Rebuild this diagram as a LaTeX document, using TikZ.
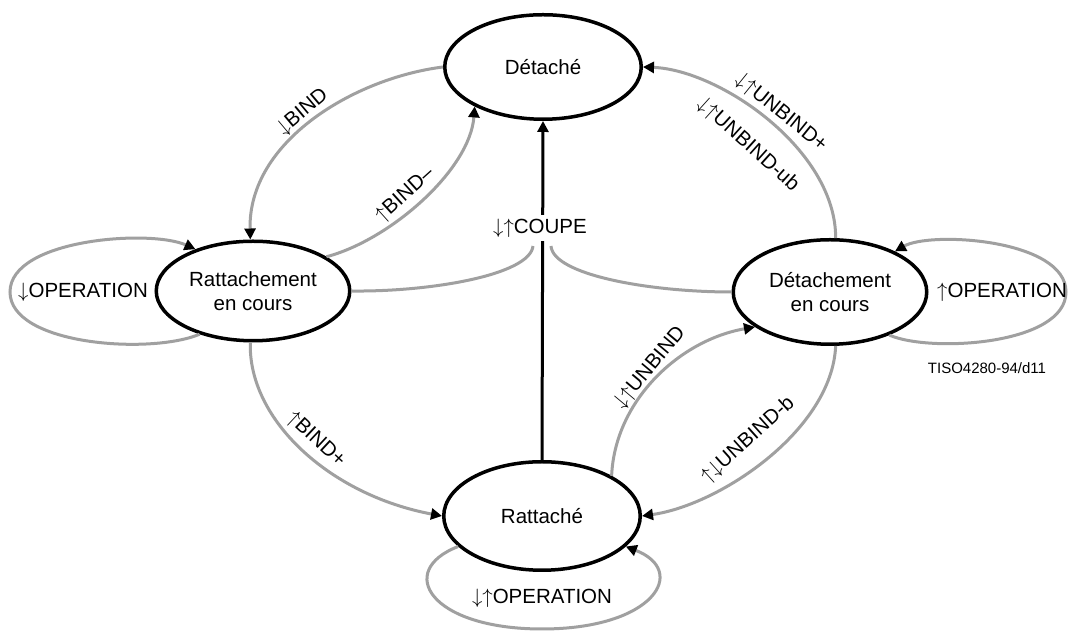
\documentclass[tikz,border=0pt]{standalone}
\usepackage{fontspec}
\setmainfont{Liberation Sans}
\usetikzlibrary{shapes.geometric,arrows.meta}
\definecolor{flowgray}{RGB}{160,160,160}
% thin, full-height direction arrows used in the transition labels
\newcommand{\arrdn}{\ensuremath{\downarrow}}
\newcommand{\arrup}{\ensuremath{\uparrow}}
\tikzset{
  state/.style={ellipse, draw=black, line width=3.5pt, fill=white, inner sep=0pt,
    align=center, font=\fontsize{20.5}{23.5}\selectfont},
  flow/.style={draw=flowgray, line width=3pt},
  tip/.style={-{Triangle[length=11pt,width=11pt,color=black,fill=black]}},
  lbl/.style={font=\fontsize{20.5}{24}\selectfont, inner sep=1pt},
}
\begin{document}
\begin{tikzpicture}[x=1pt,y=1pt]
\fill[white] (0,0) rectangle (1069,631);
\useasboundingbox (0,0) rectangle (1069,631);

% states
\node[state, minimum width=196.5pt, minimum height=104.5pt] (det) at (543,564) {Détaché};
\node[state, minimum width=193.5pt, minimum height=99.5pt] (rec) at (253,340) {Rattachement\\en cours};
\node[state, minimum width=193.5pt, minimum height=104.5pt] (dec) at (830,339) {Détachement\\en cours};
\node[state, minimum width=196.5pt, minimum height=108.5pt] (rat) at (542,115) {Rattaché};

% self loops
\draw[flow, tip] (rec.219) .. controls (150,276) and (10,286) .. (10,339)
  .. controls (10,392) and (150,402) .. (rec.144);
\node[lbl] (oplft) at (83,339) {\arrdn OPERATION};

\draw[flow, tip] (dec.324) .. controls (930,278) and (1066,286) .. (1066,339)
  .. controls (1066,392) and (930,400) .. (dec.32);
\node[lbl] (oprgt) at (1002,339) {\arrup OPERATION};

\draw[flow, tip] (rat.200) .. controls (395,60) and (430,2) .. (542,2)
  .. controls (654,2) and (689,60) .. (rat.-20);
\node[lbl] (opbot) at (542,33) {\arrdn\arrup OPERATION};

% bind / unbind transitions
\draw[flow, tip] (det.west) .. controls (355,553) and (248,490) .. (rec.93);
\node[lbl, rotate=40] (lbind) at (303,519) {\arrdn BIND};

\draw[flow, tip] (rec.25) .. controls (390,391) and (470,461) .. (det.210);
\node[lbl, rotate=42] (lbindm) at (405,436) {\arrup BIND–};

\draw[flow, tip] (rec.-93) .. controls (248,211) and (330,136) .. (rat.west);
\node[lbl, rotate=-43] (lbindp) at (316,191) {\arrup BIND+};

\draw[flow, tip] (dec.84) .. controls (836,481) and (720,561) .. (det.east);
\node[lbl, rotate=-39] (lunbp) at (781,518) {\arrdn\arrup UNBIND+};
\node[lbl, rotate=-42] (lunbub) at (748,486) {\arrdn\arrup UNBIND-ub};

\draw[flow, tip] (rat.30) .. controls (615,231) and (680,291) .. (dec.205);
\node[lbl, rotate=50] (lunb) at (650,263) {\arrdn\arrup UNBIND};

\draw[flow, tip] (dec.-84) .. controls (832,201) and (720,126) .. (rat.east);
\node[lbl, rotate=42] (lunbb) at (748,191) {\arrup\arrdn UNBIND-b};

% cut transition
\draw[black, line width=3pt, tip] (rat.north) -- (det.south);
\node[lbl, fill=white, inner sep=4pt] (coupe) at (540,403) {\arrdn\arrup COUPE};
\coordinate (cl) at (533,385);
\coordinate (cr) at (551,385);
\draw[flow] (cl) .. controls (530,356) and (430,339) .. (rec.east);
\draw[flow] (cr) .. controls (553,356) and (650,339) .. (dec.west);

\node[font=\fontsize{15}{18}\selectfont, inner sep=0pt] (ref) at (987,263) {TISO4280-94/d11};
\end{tikzpicture}
\end{document}
